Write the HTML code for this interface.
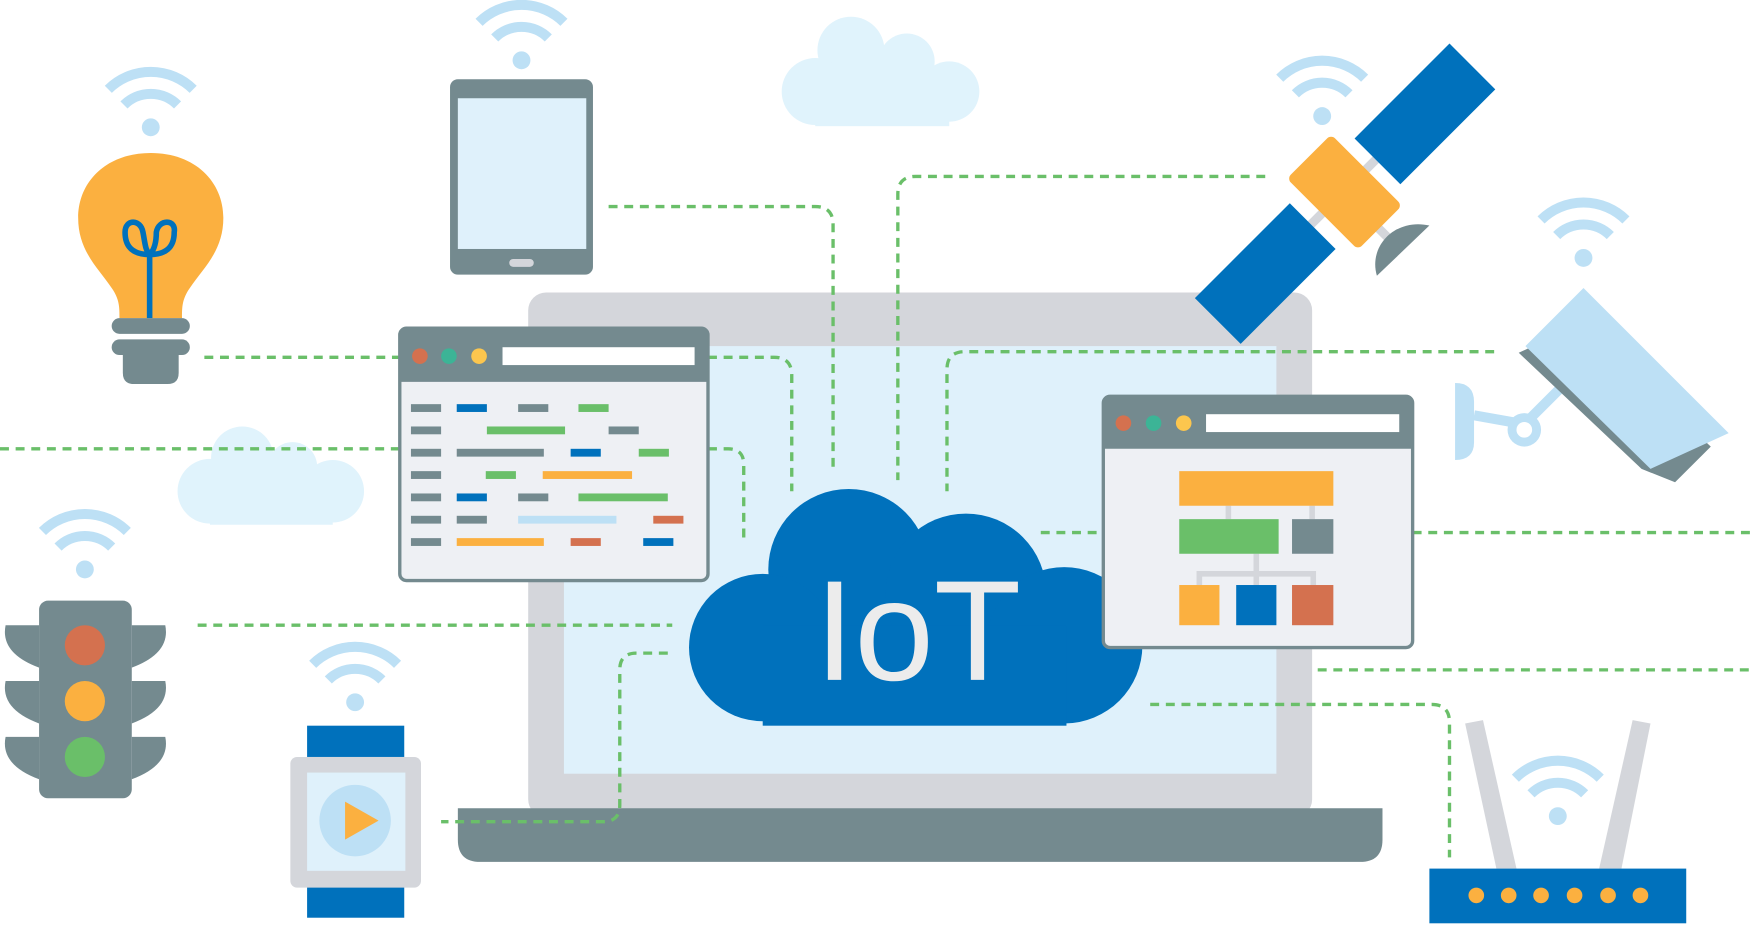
<!DOCTYPE html>
<html><head><meta charset="utf-8"><style>
html,body{margin:0;padding:0;background:#fff;}
svg{display:block;}
</style></head><body>
<svg width="1751" height="930" viewBox="0 0 1568 833" xmlns="http://www.w3.org/2000/svg" preserveAspectRatio="none">
<defs>
<g id="wifi" fill="none" stroke="#bde0f5" stroke-width="9" stroke-linecap="butt">
<path d="M-38,-34 A54,54 0 0 1 38,-34"/>
<path d="M-24,-20 A34,34 0 0 1 24,-20"/>
<circle cx="0" cy="0" r="8" fill="#bde0f5" stroke="none"/>
</g>
</defs>
<rect width="1568" height="833" fill="#fff"/>

<g fill="#e0f3fc">
<circle cx="762" cy="45" r="30"/><circle cx="812" cy="55" r="25"/><circle cx="730" cy="82" r="30"/><circle cx="850" cy="82" r="27"/>
<rect x="730" y="60" width="120" height="53"/>
<circle cx="217" cy="410" r="28"/><circle cx="262" cy="418" r="22"/><circle cx="188" cy="440" r="29"/><circle cx="298" cy="440" r="28"/>
<rect x="188" y="420" width="110" height="50"/>
</g>

<rect x="473" y="262" width="702" height="470" rx="16" fill="#d4d6db"/>
<rect x="505" y="310" width="638" height="383" fill="#dff1fb"/>
<path d="M410,724 H1238 V752 Q1238,772 1218,772 H430 Q410,772 410,752 Z" fill="#748a8f"/>

<g fill="none" stroke="#6abf69" stroke-width="3" stroke-dasharray="8 6">
<path d="M545,185 H730 Q746,185 746,201 V420"/>
<path d="M1133,158 H820 Q804,158 804,174 V430"/>
<path d="M1338,315 H864 Q848,315 848,331 V440"/>
<path d="M183,320 H358"/>
<path d="M634,320 H693 Q709,320 709,336 V440"/>
<path d="M0,402 H358"/>
<path d="M634,402 H652 Q666,402 666,416 V485"/>
<path d="M932,477 H988"/>
<path d="M1265,477 H1568"/>
<path d="M177,560 H602"/>
<path d="M598,585 H570 Q555,585 555,600 V721 Q555,736 540,736 H395"/>
<path d="M1180,600 H1568"/>
<path d="M1030,631 H1282 Q1298,631 1298,647 V768"/>
</g>

<g fill="#0071bc">
<circle cx="760" cy="510" r="72"/><circle cx="865" cy="532" r="72"/><circle cx="953" cy="578" r="70"/><circle cx="683" cy="580" r="66"/>
<rect x="683" y="560" width="272" height="90"/>
</g>
<text x="822" y="609" text-anchor="middle" font-family="Liberation Sans, sans-serif" font-size="128" fill="#ececec">IoT</text>

<rect x="358" y="294" width="276" height="226" rx="6" fill="#eef0f4" stroke="#748a8f" stroke-width="3"/>
<path d="M358,300 Q358,294 364,294 H628 Q634,294 634,300 V342 H358 Z" fill="#748a8f"/>
<circle cx="376" cy="319" r="7" fill="#d4714f"/><circle cx="402" cy="319" r="7" fill="#3cb496"/><circle cx="429" cy="319" r="7" fill="#fcc64e"/>
<rect x="450" y="311" width="172" height="16" fill="#fff"/>
<g>
<rect x="368" y="362" width="27" height="7" fill="#748a8f"/><rect x="409" y="362" width="27" height="7" fill="#0071bc"/><rect x="464" y="362" width="27" height="7" fill="#748a8f"/><rect x="518" y="362" width="27" height="7" fill="#6abf69"/>
<rect x="368" y="382" width="27" height="7" fill="#748a8f"/><rect x="436" y="382" width="70" height="7" fill="#6abf69"/><rect x="545" y="382" width="27" height="7" fill="#748a8f"/>
<rect x="368" y="402" width="27" height="7" fill="#748a8f"/><rect x="409" y="402" width="78" height="7" fill="#748a8f"/><rect x="511" y="402" width="27" height="7" fill="#0071bc"/><rect x="572" y="402" width="27" height="7" fill="#6abf69"/>
<rect x="368" y="422" width="27" height="7" fill="#748a8f"/><rect x="435" y="422" width="27" height="7" fill="#6abf69"/><rect x="486" y="422" width="80" height="7" fill="#fbb040"/>
<rect x="368" y="442" width="27" height="7" fill="#748a8f"/><rect x="409" y="442" width="27" height="7" fill="#0071bc"/><rect x="464" y="442" width="27" height="7" fill="#748a8f"/><rect x="518" y="442" width="80" height="7" fill="#6abf69"/>
<rect x="368" y="462" width="27" height="7" fill="#748a8f"/><rect x="409" y="462" width="27" height="7" fill="#748a8f"/><rect x="464" y="462" width="88" height="7" fill="#bde0f5"/><rect x="585" y="462" width="27" height="7" fill="#d4714f"/>
<rect x="368" y="482" width="27" height="7" fill="#748a8f"/><rect x="409" y="482" width="78" height="7" fill="#fbb040"/><rect x="511" y="482" width="27" height="7" fill="#d4714f"/><rect x="576" y="482" width="27" height="7" fill="#0071bc"/>
</g>

<rect x="988" y="355" width="277" height="225" rx="6" fill="#eef0f4" stroke="#748a8f" stroke-width="3"/>
<path d="M988,361 Q988,355 994,355 H1259 Q1265,355 1265,361 V402 H988 Z" fill="#748a8f"/>
<circle cx="1006" cy="379" r="7" fill="#d4714f"/><circle cx="1033" cy="379" r="7" fill="#3cb496"/><circle cx="1060" cy="379" r="7" fill="#fcc64e"/>
<rect x="1080" y="371" width="173" height="16" fill="#fff"/>
<g stroke="#d4d6db" stroke-width="5" fill="none">
<path d="M1100,453 V465 M1175,453 V465 M1125,496 V514 M1074,524 V514 H1176 V524 M1125,514 V524"/>
</g>
<rect x="1056" y="422" width="138" height="31" fill="#fbb040"/>
<rect x="1056" y="465" width="89" height="31" fill="#6abf69"/>
<rect x="1157" y="465" width="37" height="31" fill="#748a8f"/>
<rect x="1056" y="524" width="36" height="36" fill="#fbb040"/>
<rect x="1107" y="524" width="36" height="36" fill="#0071bc"/>
<rect x="1157" y="524" width="37" height="36" fill="#d4714f"/>

<rect x="403" y="71" width="128" height="175" rx="7" fill="#748a8f"/>
<rect x="410" y="88" width="115" height="135" fill="#dff1fb"/>
<rect x="456" y="232" width="22" height="7" rx="3.5" fill="#d4d6db"/>
<use href="#wifi" x="467" y="54"/>

<use href="#wifi" x="135" y="114"/>
<path d="M135,137 C175,137 200,163 200,195 C200,225 182,240 170,258 C163,268 163,275 163,285 H107 C107,275 107,268 100,258 C88,240 70,225 70,195 C70,163 95,137 135,137 Z" fill="#fbb040"/>
<g fill="none" stroke="#0071bc" stroke-width="5">
<path d="M134,285 V228 M134,228 C120,228 112,222 112,208 C112,196 126,196 128,208 C130,218 130,224 134,228 C138,224 140,218 140,208 C142,196 158,196 156,208 C156,222 148,228 134,228"/>
</g>
<rect x="100" y="285" width="70" height="14" rx="7" fill="#748a8f"/>
<rect x="100" y="304" width="70" height="14" rx="7" fill="#748a8f"/>
<path d="M110,318 H160 V334 Q160,344 150,344 H120 Q110,344 110,334 Z" fill="#748a8f"/>

<use href="#wifi" x="76" y="510"/>
<rect x="35" y="538" width="83" height="177" rx="8" fill="#748a8f"/>
<g fill="#748a8f">
<path d="M35,560 H5 Q0,585 35,598 Z"/><path d="M118,560 H148 Q153,585 118,598 Z"/>
<path d="M35,610 H5 Q0,635 35,648 Z"/><path d="M118,610 H148 Q153,635 118,648 Z"/>
<path d="M35,660 H5 Q0,685 35,698 Z"/><path d="M118,660 H148 Q153,685 118,698 Z"/>
</g>
<circle cx="76" cy="578" r="18" fill="#d4714f"/>
<circle cx="76" cy="628" r="18" fill="#fbb040"/>
<circle cx="76" cy="678" r="18" fill="#6abf69"/>

<use href="#wifi" x="318" y="629"/>
<rect x="275" y="650" width="87" height="28" fill="#0071bc"/>
<rect x="275" y="794" width="87" height="28" fill="#0071bc"/>
<rect x="260" y="678" width="117" height="117" rx="6" fill="#d4d6db"/>
<rect x="275" y="692" width="88" height="88" fill="#dff1fb"/>
<circle cx="318" cy="735" r="32" fill="#bde0f5"/>
<path d="M309,718 L339,735 L309,752 Z" fill="#fbb040"/>

<use href="#wifi" x="1184" y="104"/>
<g stroke="#d4d6db" stroke-width="8"><path d="M1140,235 L1260,115"/><path d="M1230,200 L1250,220"/></g>
<polygon points="1213,124 1298,39 1339,80 1254,165" fill="#0071bc"/>
<polygon points="1070,267 1155,182 1196,223 1111,308" fill="#0071bc"/>
<g transform="translate(1204,172) rotate(45)"><rect x="-45" y="-28" width="90" height="56" rx="5" fill="#fbb040"/></g>
<path d="M1233,247 C1225,220 1250,195 1280,202 Z" fill="#748a8f"/>

<use href="#wifi" x="1418" y="231"/>
<path d="M1303,343 Q1320,343 1320,360 V396 Q1320,412 1303,412 Z" fill="#bde0f5"/>
<path d="M1320,372 L1365,380 M1365,380 L1400,345" stroke="#bde0f5" stroke-width="9" fill="none"/>
<circle cx="1365" cy="385" r="15" fill="#bde0f5"/><circle cx="1365" cy="385" r="7" fill="#fff"/>
<polygon points="1360,316 1470,420 1500,432 1532,400 1416,290" fill="#748a8f"/>
<polygon points="1366,310 1418,258 1548,388 1478,420" fill="#bde0f5"/>

<use href="#wifi" x="1395" y="731"/>
<polygon points="1312,648 1328,645 1358,778 1340,778" fill="#d4d6db"/>
<polygon points="1462,645 1478,648 1452,778 1432,778" fill="#d4d6db"/>
<rect x="1280" y="778" width="230" height="49" fill="#0071bc"/>
<g fill="#fbb040"><circle cx="1322" cy="802" r="7"/><circle cx="1351" cy="802" r="7"/><circle cx="1380" cy="802" r="7"/><circle cx="1410" cy="802" r="7"/><circle cx="1440" cy="802" r="7"/><circle cx="1469" cy="802" r="7"/></g>
</svg>
</body></html>
